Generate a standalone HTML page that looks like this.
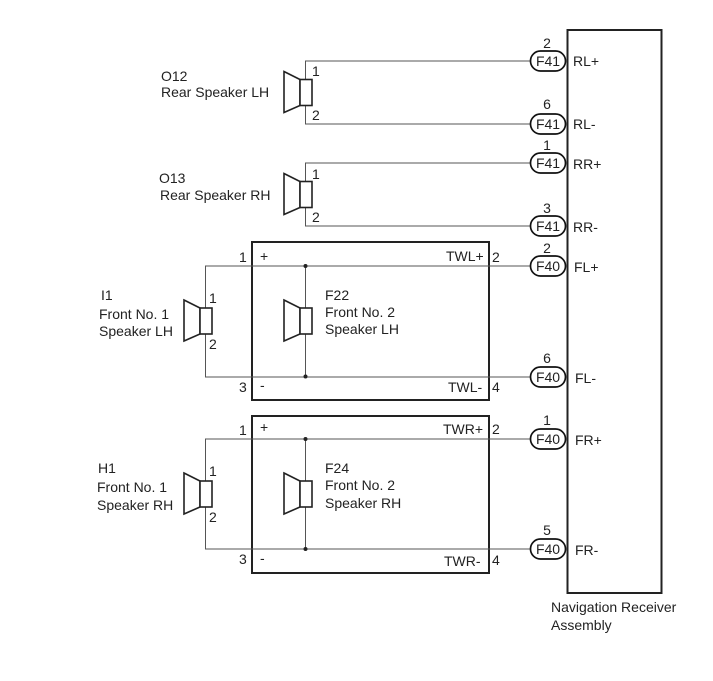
<!DOCTYPE html>
<html><head><meta charset="utf-8"><style>
html,body{margin:0;padding:0;background:#fff}
svg{display:block}
text{font-family:"Liberation Sans",sans-serif;font-size:14px;fill:#222}
.w{stroke:#555;stroke-width:1;fill:none}
.b{stroke:#222;stroke-width:2;fill:none}
.s{stroke:#222;stroke-width:1.6;fill:#fff}
.p{stroke:#111;stroke-width:1.7;fill:#fff}
</style></head><body>
<svg width="713" height="681" viewBox="0 0 713 681" xmlns="http://www.w3.org/2000/svg">
<defs>
<g id="spk">
<polygon class="s" points="0,-21 16,-13 16,13 0,20"/>
<rect class="s" x="16" y="-13" width="12" height="26"/>
</g>
</defs>

<rect class="b" x="567.5" y="30" width="94" height="563"/>
<rect class="b" x="252" y="242" width="237" height="158"/>
<rect class="b" x="252" y="416" width="237" height="157"/>

<path class="w" d="M530 61H305.5V124H530"/>
<path class="w" d="M530 163H305.5V226H530"/>
<path class="w" d="M530 266H205.5V377H530"/>
<path class="w" d="M530 439H205.5V549H530"/>
<path class="w" d="M305.5 266V377M305.5 439V549"/>

<circle cx="305.5" cy="266" r="2" fill="#222"/>
<circle cx="305.5" cy="376.500" r="2" fill="#222"/>
<circle cx="305.5" cy="439" r="2" fill="#222"/>
<circle cx="305.5" cy="549" r="2" fill="#222"/>

<use href="#spk" x="284" y="92.500"/>
<use href="#spk" x="284" y="194.500"/>
<use href="#spk" x="184" y="321"/>
<use href="#spk" x="284" y="321"/>
<use href="#spk" x="184" y="494"/>
<use href="#spk" x="284" y="494"/>

<rect class="p" x="530.500" y="51" width="35" height="20" rx="10"/>
<rect class="p" x="530.500" y="114" width="35" height="20" rx="10"/>
<rect class="p" x="530.500" y="153" width="35" height="20" rx="10"/>
<rect class="p" x="530.500" y="216" width="35" height="20" rx="10"/>
<rect class="p" x="530.500" y="256" width="35" height="20" rx="10"/>
<rect class="p" x="530.500" y="367" width="35" height="20" rx="10"/>
<rect class="p" x="530.500" y="429" width="35" height="20" rx="10"/>
<rect class="p" x="530.500" y="539" width="35" height="20" rx="10"/>

<g text-anchor="middle">
<text x="548" y="66">F41</text><text x="548" y="129">F41</text>
<text x="548" y="168">F41</text><text x="548" y="231">F41</text>
<text x="548" y="271">F40</text><text x="548" y="382">F40</text>
<text x="548" y="444">F40</text><text x="548" y="554">F40</text>
<text x="547" y="48">2</text><text x="547" y="109">6</text>
<text x="547" y="150">1</text><text x="547" y="213">3</text>
<text x="547" y="253">2</text><text x="547" y="363">6</text>
<text x="547" y="425">1</text><text x="547" y="535">5</text>
</g>

<text x="573" y="66">RL+</text><text x="573" y="129">RL-</text>
<text x="573" y="169">RR+</text><text x="573" y="232">RR-</text>
<text x="574" y="272">FL+</text><text x="575" y="383">FL-</text>
<text x="575" y="445">FR+</text><text x="575" y="555">FR-</text>

<text x="551" y="612">Navigation Receiver</text>
<text x="551" y="630">Assembly</text>

<text x="161" y="81">O12</text><text x="161" y="97">Rear Speaker LH</text>
<text x="159" y="183">O13</text><text x="160" y="200">Rear Speaker RH</text>
<text x="101" y="300">I1</text><text x="99" y="319">Front No. 1</text><text x="99" y="336">Speaker LH</text>
<text x="98" y="473">H1</text><text x="97" y="492">Front No. 1</text><text x="97" y="510">Speaker RH</text>
<text x="325" y="300">F22</text><text x="325" y="317">Front No. 2</text><text x="325" y="334">Speaker LH</text>
<text x="325" y="473">F24</text><text x="325" y="490">Front No. 2</text><text x="325" y="508">Speaker RH</text>

<text x="312" y="76">1</text><text x="312" y="120">2</text>
<text x="312" y="179">1</text><text x="312" y="222">2</text>
<text x="209" y="303">1</text><text x="209" y="349">2</text>
<text x="209" y="476">1</text><text x="209" y="522">2</text>

<text x="239" y="262">1</text><text x="239" y="392">3</text>
<text x="239" y="435">1</text><text x="239" y="564">3</text>
<text x="260" y="261">+</text><text x="260" y="390">-</text>
<text x="260" y="432">+</text><text x="260" y="563">-</text>

<text x="446" y="261">TWL+</text><text x="448" y="392">TWL-</text>
<text x="443" y="434">TWR+</text><text x="444" y="566">TWR-</text>
<text x="492" y="262">2</text><text x="492" y="392">4</text>
<text x="492" y="434">2</text><text x="492" y="565">4</text>
</svg>
</body></html>
